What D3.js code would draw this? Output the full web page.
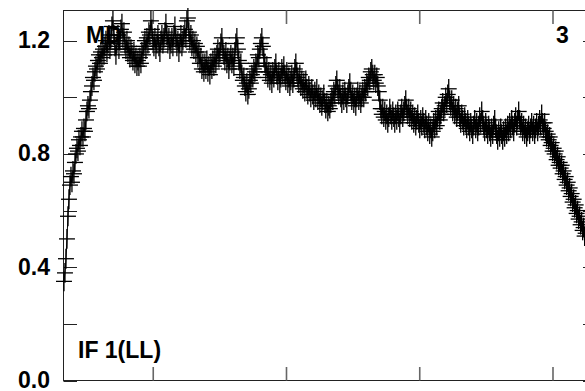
<!DOCTYPE html>
<html>
<head>
<meta charset="utf-8">
<script src="https://cdn.jsdelivr.net/npm/d3@7"></script>
<style>
  html, body { margin: 0; padding: 0; background: #fff; }
  svg { display: block; }
  text { font-family: "Liberation Sans", Arial, sans-serif; font-weight: bold; fill: #000; }
</style>
</head>
<body>
<svg id="chart" width="585" height="391"></svg>
<script>
// ---- data ----
const yTickLabels = [0.0, 0.4, 0.8, 1.2];
const yTicks = [0.0, 0.2, 0.4, 0.6, 0.8, 1.0, 1.2];
const xTicks = [1, 2, 3, 4];
const xDomain = [0.3265, 4.3265];
const yDomain = [0, 1.3065];
const xStart = 0.330;      // first channel position
const xStep = 0.0075;      // channel spacing
const xHalfWidth = 0.06;   // marker horizontal half-width (data units)
const yErr = 0.035;        // vertical error bar half-length
const fluxValues = [
  0.35, 0.38, 0.43, 0.50, 0.58, 0.64, 0.69, 0.72, 0.70, 0.74, 0.73, 0.77, 0.80, 0.82, 0.81, 0.85, 0.83, 0.86, 0.88, 0.86,
  0.89, 0.88, 0.92, 0.95, 0.97, 0.96, 0.99, 1.02, 1.04, 1.07, 1.06, 1.09, 1.11, 1.10, 1.13, 1.15, 1.12, 1.16, 1.14, 1.17,
  1.15, 1.18, 1.20, 1.16, 1.19, 1.22, 1.17, 1.21, 1.25, 1.27, 1.22, 1.18, 1.15, 1.19, 1.22, 1.17, 1.20, 1.24, 1.26, 1.21,
  1.23, 1.19, 1.17, 1.20, 1.16, 1.18, 1.14, 1.17, 1.15, 1.13, 1.16, 1.12, 1.14, 1.11, 1.13, 1.11, 1.14, 1.12, 1.16, 1.15,
  1.18, 1.20, 1.17, 1.21, 1.19, 1.23, 1.22, 1.27, 1.24, 1.20, 1.18, 1.21, 1.17, 1.19, 1.22, 1.18, 1.16, 1.20, 1.22, 1.19,
  1.21, 1.23, 1.26, 1.22, 1.19, 1.21, 1.17, 1.19, 1.21, 1.18, 1.22, 1.25, 1.21, 1.18, 1.20, 1.16, 1.19, 1.22, 1.18, 1.20,
  1.22, 1.24, 1.21, 1.27, 1.28, 1.23, 1.20, 1.22, 1.18, 1.20, 1.17, 1.19, 1.16, 1.18, 1.14, 1.16, 1.12, 1.14, 1.10, 1.12,
  1.09, 1.12, 1.10, 1.13, 1.09, 1.11, 1.08, 1.12, 1.10, 1.13, 1.11, 1.14, 1.12, 1.15, 1.17, 1.14, 1.16, 1.19, 1.21, 1.17,
  1.15, 1.13, 1.16, 1.12, 1.14, 1.10, 1.13, 1.15, 1.12, 1.14, 1.11, 1.16, 1.19, 1.21, 1.17, 1.13, 1.10, 1.12, 1.08, 1.06,
  1.07, 1.04, 1.02, 1.05, 1.01, 1.03, 1.06, 1.05, 1.08, 1.07, 1.10, 1.09, 1.12, 1.11, 1.15, 1.14, 1.17, 1.19, 1.21, 1.18,
  1.14, 1.12, 1.09, 1.11, 1.07, 1.09, 1.06, 1.08, 1.05, 1.09, 1.07, 1.10, 1.12, 1.08, 1.06, 1.09, 1.05, 1.07, 1.10, 1.08,
  1.11, 1.08, 1.06, 1.09, 1.05, 1.07, 1.04, 1.06, 1.08, 1.05, 1.07, 1.10, 1.12, 1.09, 1.07, 1.05, 1.08, 1.04, 1.06, 1.03,
  1.05, 1.02, 1.06, 1.03, 1.01, 1.04, 1.02, 1.00, 1.03, 1.01, 0.99, 1.02, 1.00, 1.03, 0.99, 1.01, 0.98, 1.00, 0.97, 0.99,
  1.01, 0.98, 0.96, 0.98, 0.95, 0.97, 0.96, 0.98, 1.00, 0.99, 1.02, 1.01, 1.04, 1.06, 1.03, 1.01, 1.03, 1.00, 0.98, 1.01,
  0.99, 1.02, 1.00, 0.98, 1.01, 1.03, 1.05, 1.02, 0.99, 1.01, 0.98, 1.00, 0.97, 1.00, 1.02, 0.99, 1.01, 0.98, 1.00, 1.02,
  1.00, 1.03, 1.02, 1.05, 1.04, 1.07, 1.06, 1.09, 1.10, 1.08, 1.06, 1.08, 1.05, 1.07, 1.04, 1.02, 0.99, 0.96, 0.94, 0.96,
  0.93, 0.95, 0.92, 0.94, 0.91, 0.93, 0.96, 0.94, 0.92, 0.95, 0.93, 0.91, 0.94, 0.92, 0.95, 0.93, 0.91, 0.94, 0.96, 0.93,
  0.95, 0.97, 0.99, 0.96, 0.94, 0.96, 0.93, 0.95, 0.92, 0.94, 0.91, 0.93, 0.90, 0.92, 0.94, 0.91, 0.89, 0.92, 0.90, 0.93,
  0.91, 0.89, 0.92, 0.90, 0.88, 0.91, 0.87, 0.89, 0.86, 0.88, 0.91, 0.89, 0.92, 0.90, 0.93, 0.95, 0.92, 0.94, 0.96, 0.98,
  0.95, 0.97, 1.00, 0.98, 1.01, 1.03, 0.99, 0.97, 0.99, 0.95, 0.97, 0.94, 0.96, 0.93, 0.95, 0.97, 0.93, 0.91, 0.94, 0.92,
  0.90, 0.93, 0.91, 0.89, 0.92, 0.90, 0.88, 0.91, 0.89, 0.87, 0.90, 0.92, 0.89, 0.91, 0.88, 0.90, 0.93, 0.91, 0.95, 0.92,
  0.90, 0.88, 0.91, 0.89, 0.87, 0.90, 0.88, 0.86, 0.89, 0.87, 0.90, 0.92, 0.89, 0.87, 0.85, 0.88, 0.86, 0.89, 0.87, 0.85,
  0.88, 0.86, 0.89, 0.87, 0.90, 0.88, 0.91, 0.89, 0.92, 0.90, 0.88, 0.91, 0.93, 0.90, 0.92, 0.95, 0.92, 0.90, 0.91, 0.88,
  0.90, 0.87, 0.89, 0.86, 0.88, 0.90, 0.87, 0.89, 0.91, 0.88, 0.90, 0.87, 0.89, 0.91, 0.88, 0.90, 0.92, 0.90, 0.94, 0.91,
  0.89, 0.91, 0.88, 0.86, 0.87, 0.85, 0.86, 0.83, 0.84, 0.81, 0.82, 0.80, 0.81, 0.78, 0.79, 0.76, 0.77, 0.75, 0.76, 0.73,
  0.74, 0.71, 0.72, 0.69, 0.70, 0.67, 0.68, 0.65, 0.66, 0.63, 0.64, 0.61, 0.62, 0.59, 0.60, 0.57, 0.58, 0.55, 0.56, 0.53,
  0.54, 0.51, 0.52
];
const labelTopLeft = "MD";
const labelTopRight = "3";
const labelBottomLeft = "IF 1(LL)";

// ---- chart ----
const svg = d3.select("#chart");
const mLeft = 63.5, mRight = 596.5, mTop = 10.5, mBottom = 380.5;
const x = d3.scaleLinear().domain(xDomain).range([mLeft, mRight]);
const y = d3.scaleLinear().domain(yDomain).range([mBottom, mTop]);

const pts = fluxValues.map((v, i) => ({ x: xStart + i * xStep, y: v }));

// labels under data
svg.append("text").attr("x", 86).attr("y", 43).attr("font-size", 23).text(labelTopLeft);
svg.append("text").attr("x", 556).attr("y", 43).attr("font-size", 23).text(labelTopRight);
svg.append("text").attr("x", 78).attr("y", 358).attr("font-size", 23).text(labelBottomLeft);

// frame
svg.append("rect").attr("x", mLeft).attr("y", mTop)
  .attr("width", mRight - mLeft).attr("height", mBottom - mTop)
  .attr("fill", "none").attr("stroke", "#222").attr("stroke-width", 1);

// y ticks (left and right, inward)
const tickLen = 13.5;
svg.append("g").selectAll("line").data(yTicks).join("line")
  .attr("x1", mLeft).attr("x2", mLeft + tickLen)
  .attr("y1", d => Math.round(y(d)) + 0.5).attr("y2", d => Math.round(y(d)) + 0.5)
  .attr("stroke", "#222").attr("stroke-width", 1);
svg.append("g").selectAll("line").data(yTicks).join("line")
  .attr("x1", mRight).attr("x2", mRight - tickLen)
  .attr("y1", d => Math.round(y(d)) + 0.5).attr("y2", d => Math.round(y(d)) + 0.5)
  .attr("stroke", "#222").attr("stroke-width", 1);

// x ticks (top and bottom, inward, unlabeled)
svg.append("g").selectAll("line").data(xTicks).join("line")
  .attr("x1", d => x(d)).attr("x2", d => x(d))
  .attr("y1", mTop).attr("y2", mTop + tickLen)
  .attr("stroke", "#666").attr("stroke-width", 1.6);
svg.append("g").selectAll("line").data(xTicks).join("line")
  .attr("x1", d => x(d)).attr("x2", d => x(d))
  .attr("y1", mBottom).attr("y2", mBottom - tickLen)
  .attr("stroke", "#666").attr("stroke-width", 1.6);

// y tick labels
svg.append("g").selectAll("text").data(yTickLabels).join("text")
  .attr("x", 50).attr("y", d => y(d) + 7.5)
  .attr("text-anchor", "end").attr("font-size", 23)
  .text(d => d.toFixed(1));

// data line
svg.append("path").datum(pts)
  .attr("fill", "none").attr("stroke", "#000").attr("stroke-width", 1)
  .attr("d", d3.line().x(d => x(d.x)).y(d => y(d.y)));

// markers: horizontal bars + vertical error bars
const mk = svg.append("g").attr("stroke", "#000").attr("stroke-width", 1.3);
mk.selectAll("line.h").data(pts).join("line").attr("class", "h")
  .attr("x1", d => x(d.x - xHalfWidth)).attr("x2", d => x(d.x + xHalfWidth))
  .attr("y1", d => y(d.y)).attr("y2", d => y(d.y));
mk.selectAll("line.v").data(pts).join("line").attr("class", "v")
  .attr("x1", d => x(d.x)).attr("x2", d => x(d.x))
  .attr("y1", d => y(d.y - yErr)).attr("y2", d => y(d.y + yErr));
</script>
</body>
</html>
